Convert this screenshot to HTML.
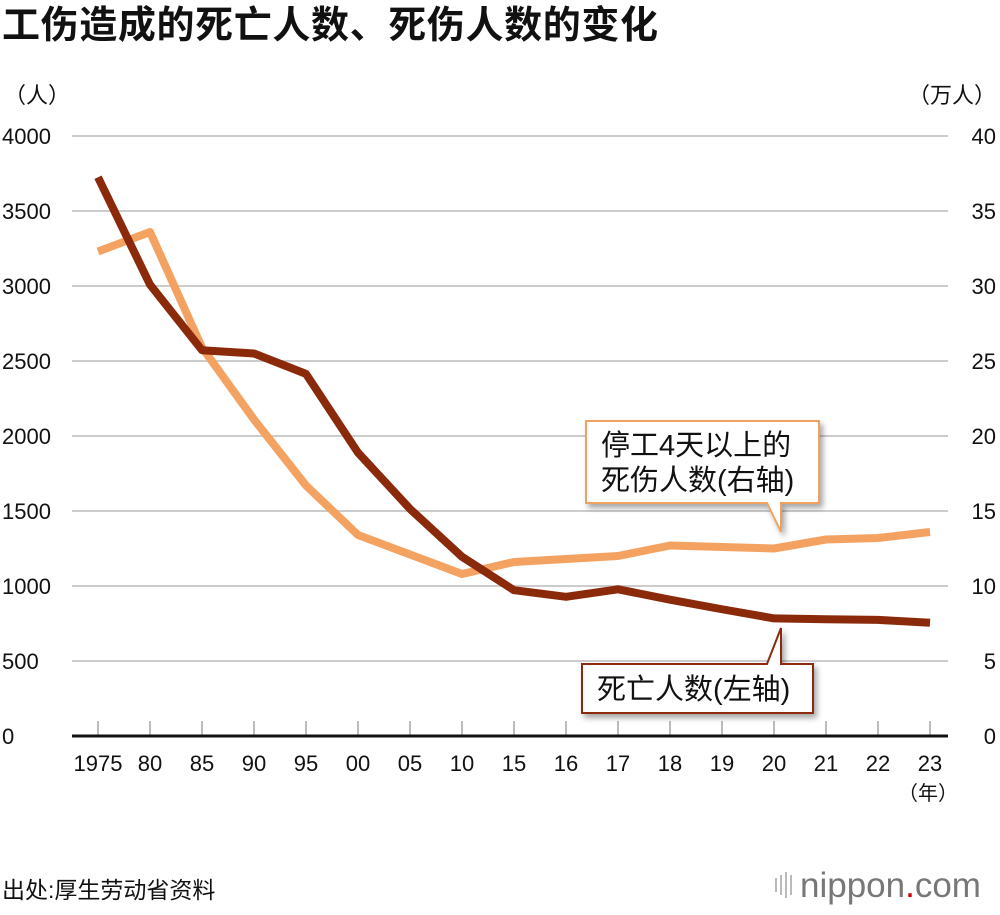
<!DOCTYPE html>
<html><head><meta charset="utf-8">
<style>
body{margin:0;background:#fff;}
svg text{font-family:"Liberation Sans","Noto Sans CJK SC",sans-serif;}
</style></head>
<body>
<svg width="1000" height="910" viewBox="0 0 1000 910">
<defs>
<filter id="sh" x="-10%" y="-10%" width="130%" height="140%"><feDropShadow dx="3" dy="4" stdDeviation="3" flood-color="#000" flood-opacity="0.35"/></filter>
</defs>
<text x="2" y="38" font-size="38" font-weight="bold" fill="#111" textLength="656">工伤造成的死亡人数、死伤人数的变化</text>
<text x="4" y="103" font-size="22" fill="#111">（人）</text>
<text x="996" y="103" font-size="22" fill="#111" text-anchor="end">（万人）</text>
<g id="grid"></g>
<g id="ticks"></g>
<g id="lines"></g>
<g id="callouts">
<path d="M586,421 H819 V503 H781 L781,532 L767,503 H586 Z" fill="#fff" stroke="#f0a15f" stroke-width="2" filter="url(#sh)"/>
<text x="601" y="455" font-size="29" fill="#111">停工4天以上的</text>
<text x="601" y="490" font-size="29" fill="#111">死伤人数(右轴)</text>
<path d="M582,664 H767 L781,628 L781,664 H813 V713 H582 Z" fill="#fff" stroke="#8b2a0a" stroke-width="2" filter="url(#sh)"/>
<text x="597" y="699" font-size="29" fill="#111">死亡人数(左轴)</text>
</g>
<text x="928" y="800" font-size="20" fill="#111" text-anchor="middle">（年）</text>
<text x="2" y="898" font-size="23" fill="#111">出处:厚生劳动省资料</text>
<g>
<rect x="775" y="878" width="2" height="14" fill="#bbb"/><rect x="780" y="875" width="2" height="20" fill="#bbb"/><rect x="785" y="872" width="2" height="26" fill="#bbb"/><rect x="790" y="875" width="2" height="20" fill="#bbb"/>
<text x="800" y="897" font-size="35" fill="#777">nippon<tspan fill="#c00">.</tspan>com</text>
</g>
</svg>
<script>
const categories=["1975","80","85","90","95","00","05","10","15","16","17","18","19","20","21","22","23"];
const deaths=[3725,3009,2572,2550,2414,1889,1514,1195,972,928,978,909,845,784,778,774,755];
const injuries=[32.3,33.6,25.9,21.1,16.7,13.4,12.1,10.8,11.6,11.8,12.0,12.7,12.6,12.5,13.1,13.2,13.6];
const leftTicks=[0,500,1000,1500,2000,2500,3000,3500,4000];
const rightTicks=[0,5,10,15,20,25,30,35,40];
const NS="http://www.w3.org/2000/svg";
const x=i=>98+i*52;
const yL=v=>736-v*0.15;
const yR=v=>736-v*15;
function el(t,a,p){const e=document.createElementNS(NS,t);for(const k in a)e.setAttribute(k,a[k]);document.getElementById(p).appendChild(e);return e;}
leftTicks.forEach((v,i)=>{
 if(v>0){const g=el('line',{x1:72,x2:948,y1:yL(v),y2:yL(v),stroke:'#ccc','stroke-width':2},'grid');
 
 }
 const t=el('text',{x:2,y:yL(v)+8,'font-size':22,fill:'#111'},'grid');t.textContent=v;
 
 
});
rightTicks.forEach(v=>{
 const t=el('text',{x:996,y:yR(v)+8,'font-size':22,fill:'#111','text-anchor':'end'},'grid');t.textContent=v;
 
 
});
categories.forEach((c,i)=>{
 const l=el('line',{x1:x(i),x2:x(i),y1:721,y2:736,stroke:'#bbb','stroke-width':2},'ticks');
 
 
 const t=el('text',{x:x(i),y:771,'font-size':22,fill:'#111','text-anchor':'middle'},'ticks');t.textContent=c;
 
 
});
const ax=el('line',{x1:72,x2:948,y1:736,y2:736,stroke:'#111','stroke-width':3},'ticks');


const p1=el('polyline',{points:injuries.map((v,i)=>x(i)+','+yR(v)).join(' '),fill:'none',stroke:'#f4a261','stroke-width':8,'stroke-linejoin':'round'},'lines');


const p2=el('polyline',{points:deaths.map((v,i)=>x(i)+','+yL(v)).join(' '),fill:'none',stroke:'#8b2a0a','stroke-width':8,'stroke-linejoin':'round'},'lines');


</script>
</body></html>
